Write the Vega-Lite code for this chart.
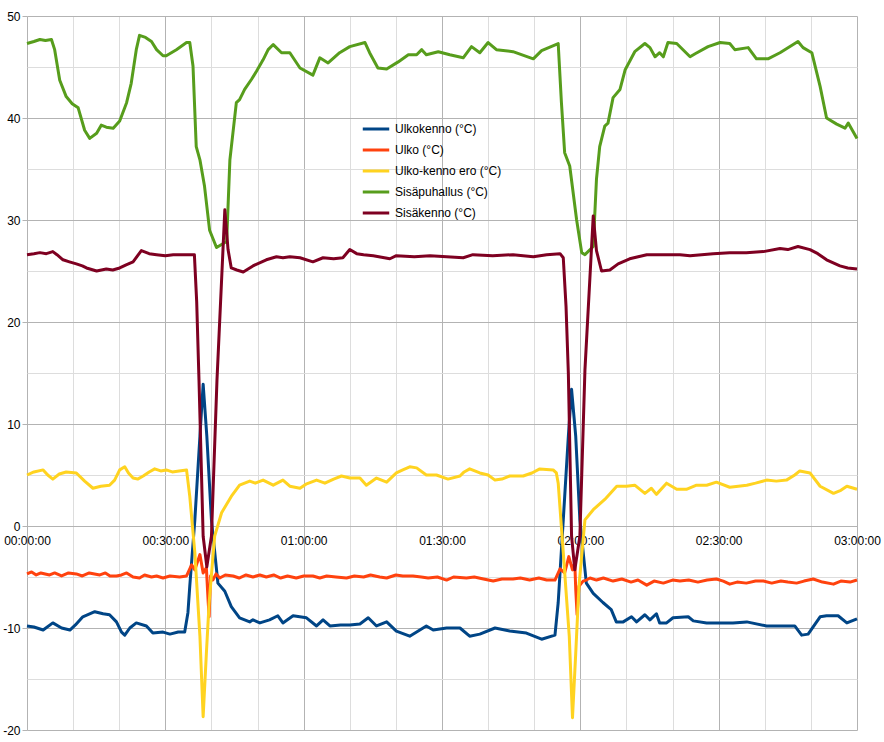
{
  "$schema": "https://vega.github.io/schema/vega-lite/v6.json",
  "width": 830,
  "height": 714,
  "autosize": {"type": "none"},
  "padding": {"left": 27, "top": 16, "right": 27, "bottom": 12},
  "background": "white",
  "config": {
    "view": {"stroke": null},
    "font": "Liberation Sans",
    "axis": {"labelFont": "Liberation Sans", "labelFontSize": 12, "labelColor": "#000000", "title": null},
    "legend": {"labelFont": "Liberation Sans", "labelFontSize": 12, "labelColor": "#000000"}
  },
  "datasets": {
    "blue": [
      {"t":0,"v":-9.8},{"t":1.5,"v":-9.9},{"t":3.5,"v":-10.2},{"t":5.6,"v":-9.5},{"t":7.5,"v":-10.0},{"t":9.3,"v":-10.2},{"t":10.5,"v":-9.7},{"t":12.1,"v":-8.9},{"t":14.7,"v":-8.4},{"t":16.5,"v":-8.6},{"t":17.9,"v":-8.7},{"t":19.4,"v":-9.4},{"t":20.5,"v":-10.4},{"t":21.2,"v":-10.7},{"t":22.3,"v":-10.0},{"t":23.7,"v":-9.5},{"t":25.9,"v":-9.8},{"t":27.3,"v":-10.5},{"t":29.5,"v":-10.4},{"t":31.0,"v":-10.6},{"t":32.8,"v":-10.4},{"t":34.2,"v":-10.4},{"t":34.9,"v":-8.5},{"t":35.3,"v":-5.9},{"t":36.4,"v":0.6},{"t":37.5,"v":8.8},{"t":38.2,"v":13.9},{"t":39.0,"v":8.8},{"t":40.0,"v":0.6},{"t":41.4,"v":-5.6},{"t":42.9,"v":-6.4},{"t":44.3,"v":-7.9},{"t":46.1,"v":-9.0},{"t":48.3,"v":-9.4},{"t":49.0,"v":-9.2},{"t":50.5,"v":-9.5},{"t":52.6,"v":-9.2},{"t":54.4,"v":-8.8},{"t":55.5,"v":-9.5},{"t":57.7,"v":-8.8},{"t":60.6,"v":-9.0},{"t":62.8,"v":-9.8},{"t":64.2,"v":-9.2},{"t":65.7,"v":-9.8},{"t":68.0,"v":-9.7},{"t":70.0,"v":-9.7},{"t":72.2,"v":-9.6},{"t":74.0,"v":-9.0},{"t":75.8,"v":-9.8},{"t":78.0,"v":-9.4},{"t":80.1,"v":-10.3},{"t":83.0,"v":-10.8},{"t":86.6,"v":-9.8},{"t":88.1,"v":-10.2},{"t":91.0,"v":-10.0},{"t":93.9,"v":-10.0},{"t":96.0,"v":-10.8},{"t":98.2,"v":-10.6},{"t":101.5,"v":-10.0},{"t":104.7,"v":-10.3},{"t":108.3,"v":-10.5},{"t":111.6,"v":-11.1},{"t":114.5,"v":-10.7},{"t":115.2,"v":-7.5},{"t":116.3,"v":0.6},{"t":117.4,"v":8.8},{"t":118.1,"v":13.4},{"t":119.0,"v":8.8},{"t":119.9,"v":0.6},{"t":121.3,"v":-5.6},{"t":122.8,"v":-6.6},{"t":124.9,"v":-7.5},{"t":126.7,"v":-8.2},{"t":127.8,"v":-9.4},{"t":129.3,"v":-9.4},{"t":131.1,"v":-8.9},{"t":132.2,"v":-9.4},{"t":134.0,"v":-8.7},{"t":135.1,"v":-9.2},{"t":136.5,"v":-8.6},{"t":137.2,"v":-9.5},{"t":138.7,"v":-9.5},{"t":140.1,"v":-9.0},{"t":143.4,"v":-8.9},{"t":144.5,"v":-9.3},{"t":147.4,"v":-9.5},{"t":150.3,"v":-9.5},{"t":153.1,"v":-9.5},{"t":156.1,"v":-9.4},{"t":160.4,"v":-9.8},{"t":164.7,"v":-9.8},{"t":166.5,"v":-9.8},{"t":168.0,"v":-10.7},{"t":169.4,"v":-10.6},{"t":172.0,"v":-8.9},{"t":173.4,"v":-8.8},{"t":175.9,"v":-8.8},{"t":177.8,"v":-9.5},{"t":180,"v":-9.1}
    ],
    "orange": [
      {"t":0,"v":-4.7},{"t":1,"v":-4.5},{"t":2,"v":-4.8},{"t":3,"v":-4.6},{"t":4.9,"v":-4.8},{"t":6,"v":-4.6},{"t":7.5,"v":-4.9},{"t":9,"v":-4.6},{"t":10.7,"v":-4.7},{"t":12,"v":-4.9},{"t":13.5,"v":-4.6},{"t":15.8,"v":-4.8},{"t":17,"v":-4.6},{"t":18,"v":-4.9},{"t":19.4,"v":-4.9},{"t":20.5,"v":-4.8},{"t":21.6,"v":-4.6},{"t":23,"v":-5.0},{"t":24.4,"v":-5.1},{"t":25.5,"v":-4.8},{"t":27,"v":-5.0},{"t":28.1,"v":-4.9},{"t":29.5,"v":-5.1},{"t":31,"v":-4.9},{"t":33.1,"v":-5.0},{"t":34.6,"v":-4.9},{"t":35.7,"v":-3.8},{"t":36.4,"v":-4.3},{"t":37.5,"v":-2.8},{"t":38.2,"v":-4.6},{"t":38.9,"v":-4.1},{"t":39.3,"v":-7.5},{"t":39.5,"v":-8.9},{"t":39.8,"v":-4.9},{"t":40.3,"v":-5.3},{"t":41.0,"v":-4.7},{"t":41.8,"v":-5.1},{"t":43,"v":-4.8},{"t":44.7,"v":-4.9},{"t":46,"v":-5.1},{"t":47.5,"v":-4.8},{"t":49,"v":-5.0},{"t":50.5,"v":-4.8},{"t":51.9,"v":-5.0},{"t":53.5,"v":-4.8},{"t":55,"v":-5.1},{"t":56.5,"v":-4.9},{"t":58.4,"v":-5.1},{"t":60,"v":-4.9},{"t":62.0,"v":-4.9},{"t":63.5,"v":-5.1},{"t":65,"v":-4.9},{"t":67,"v":-5.0},{"t":69.3,"v":-5.1},{"t":71,"v":-4.9},{"t":73,"v":-5.0},{"t":74.5,"v":-4.8},{"t":76.5,"v":-5.0},{"t":78,"v":-5.1},{"t":80,"v":-4.8},{"t":81.5,"v":-4.9},{"t":83.7,"v":-4.9},{"t":85.5,"v":-5.0},{"t":87,"v":-5.1},{"t":89,"v":-5.0},{"t":91.0,"v":-5.3},{"t":92.5,"v":-5.0},{"t":95.3,"v":-5.1},{"t":97,"v":-5.0},{"t":99,"v":-5.2},{"t":101.1,"v":-5.4},{"t":103,"v":-5.2},{"t":105.4,"v":-5.2},{"t":107,"v":-5.1},{"t":109,"v":-5.3},{"t":111,"v":-5.1},{"t":112.7,"v":-5.3},{"t":114.5,"v":-5.3},{"t":115.6,"v":-4.2},{"t":116.6,"v":-4.6},{"t":117.5,"v":-3.0},{"t":118.3,"v":-4.3},{"t":118.8,"v":-3.6},{"t":119.0,"v":-6.2},{"t":119.3,"v":-8.7},{"t":119.7,"v":-5.9},{"t":120.6,"v":-5.4},{"t":121.3,"v":-5.3},{"t":122.1,"v":-5.1},{"t":123.5,"v":-5.3},{"t":125,"v":-5.1},{"t":127.1,"v":-5.4},{"t":129,"v":-5.2},{"t":131,"v":-5.5},{"t":132.5,"v":-5.3},{"t":134.4,"v":-5.8},{"t":136,"v":-5.4},{"t":138,"v":-5.6},{"t":140,"v":-5.3},{"t":141.6,"v":-5.4},{"t":143.5,"v":-5.3},{"t":145.5,"v":-5.5},{"t":147.5,"v":-5.3},{"t":149.5,"v":-5.2},{"t":151,"v":-5.4},{"t":152.4,"v":-5.7},{"t":154,"v":-5.5},{"t":156,"v":-5.6},{"t":158,"v":-5.4},{"t":159.7,"v":-5.4},{"t":161.5,"v":-5.6},{"t":163.5,"v":-5.4},{"t":165,"v":-5.5},{"t":166.9,"v":-5.6},{"t":168.5,"v":-5.4},{"t":170.5,"v":-5.2},{"t":172.5,"v":-5.5},{"t":174.9,"v":-5.7},{"t":176.5,"v":-5.4},{"t":178.5,"v":-5.5},{"t":180,"v":-5.3}
    ],
    "yellow": [
      {"t":0,"v":5.0},{"t":1.5,"v":5.3},{"t":3.5,"v":5.5},{"t":4.5,"v":5.0},{"t":5.6,"v":4.6},{"t":7.0,"v":5.1},{"t":8.5,"v":5.3},{"t":10.7,"v":5.2},{"t":12.5,"v":4.4},{"t":14.3,"v":3.7},{"t":16.0,"v":3.9},{"t":17.9,"v":4.0},{"t":19.0,"v":4.5},{"t":20.1,"v":5.5},{"t":21.2,"v":5.8},{"t":22.0,"v":5.2},{"t":23.0,"v":4.7},{"t":24.0,"v":4.6},{"t":25.2,"v":4.9},{"t":26.5,"v":5.3},{"t":27.7,"v":5.6},{"t":29.0,"v":5.4},{"t":30.2,"v":5.5},{"t":31.5,"v":5.3},{"t":33.0,"v":5.4},{"t":34.6,"v":5.5},{"t":35.3,"v":2.9},{"t":36.4,"v":-2.6},{"t":37.5,"v":-10.8},{"t":38.2,"v":-18.7},{"t":38.9,"v":-12.5},{"t":39.5,"v":-7.5},{"t":40.7,"v":-1.0},{"t":42.2,"v":1.3},{"t":44.3,"v":2.9},{"t":46.1,"v":4.0},{"t":48.3,"v":4.4},{"t":49.5,"v":4.2},{"t":51.2,"v":4.5},{"t":53.4,"v":4.0},{"t":55.5,"v":4.5},{"t":57.0,"v":3.9},{"t":59.2,"v":3.7},{"t":60.5,"v":4.1},{"t":62.8,"v":4.5},{"t":64.6,"v":4.2},{"t":66.5,"v":4.6},{"t":68.2,"v":4.9},{"t":70.0,"v":4.7},{"t":72.2,"v":4.7},{"t":73.6,"v":4.0},{"t":75.8,"v":4.7},{"t":78.0,"v":4.3},{"t":80.1,"v":5.2},{"t":81.5,"v":5.5},{"t":83.0,"v":5.8},{"t":84.5,"v":5.7},{"t":86.6,"v":5.0},{"t":88.8,"v":5.0},{"t":91.3,"v":4.6},{"t":93.9,"v":4.9},{"t":94.8,"v":5.3},{"t":96.0,"v":5.6},{"t":98.2,"v":5.2},{"t":100.0,"v":5.0},{"t":101.5,"v":4.5},{"t":103.0,"v":4.6},{"t":104.7,"v":4.9},{"t":107.6,"v":4.9},{"t":109.5,"v":5.2},{"t":111.2,"v":5.6},{"t":114.1,"v":5.5},{"t":114.8,"v":5.2},{"t":115.2,"v":4.2},{"t":116.3,"v":-2.6},{"t":117.6,"v":-10.8},{"t":118.3,"v":-18.8},{"t":119.0,"v":-12.5},{"t":119.7,"v":-5.9},{"t":121.0,"v":0.6},{"t":122.8,"v":1.6},{"t":125.3,"v":2.6},{"t":127.9,"v":3.9},{"t":130.0,"v":3.9},{"t":131.8,"v":4.0},{"t":134.0,"v":3.2},{"t":135.4,"v":3.7},{"t":136.5,"v":3.1},{"t":138.7,"v":4.2},{"t":140.9,"v":3.6},{"t":143.0,"v":3.6},{"t":145.2,"v":4.0},{"t":147.4,"v":4.0},{"t":149.5,"v":4.3},{"t":152.4,"v":3.8},{"t":156.1,"v":4.0},{"t":158.0,"v":4.2},{"t":160.4,"v":4.5},{"t":162.5,"v":4.4},{"t":164.7,"v":4.5},{"t":166.5,"v":5.0},{"t":167.6,"v":5.4},{"t":169.8,"v":5.2},{"t":172.0,"v":3.9},{"t":174.9,"v":3.2},{"t":176.5,"v":3.5},{"t":177.8,"v":3.9},{"t":180,"v":3.6}
    ],
    "green": [
      {"t":0,"v":47.3},{"t":1.5,"v":47.5},{"t":2.8,"v":47.7},{"t":4,"v":47.6},{"t":5.3,"v":47.7},{"t":6,"v":46.7},{"t":7.1,"v":43.7},{"t":8.5,"v":42.1},{"t":9.8,"v":41.4},{"t":11.1,"v":41.0},{"t":12.5,"v":38.8},{"t":13.6,"v":38.0},{"t":15.1,"v":38.5},{"t":16.1,"v":39.3},{"t":17.2,"v":39.1},{"t":18.7,"v":39.0},{"t":20.1,"v":39.7},{"t":21.6,"v":41.5},{"t":22.6,"v":43.4},{"t":23.7,"v":46.7},{"t":24.4,"v":48.1},{"t":25.7,"v":47.9},{"t":27.0,"v":47.5},{"t":28.1,"v":46.7},{"t":29.5,"v":46.1},{"t":30.2,"v":46.1},{"t":32.4,"v":46.7},{"t":34.6,"v":47.4},{"t":35.3,"v":47.4},{"t":36.0,"v":45.1},{"t":36.7,"v":37.2},{"t":37.5,"v":35.9},{"t":38.5,"v":33.3},{"t":39.6,"v":29.0},{"t":41.1,"v":27.3},{"t":43.3,"v":27.9},{"t":44.0,"v":35.9},{"t":45.4,"v":41.5},{"t":46.1,"v":41.8},{"t":47.2,"v":42.8},{"t":48.7,"v":43.8},{"t":49.8,"v":44.6},{"t":51.2,"v":45.7},{"t":52.3,"v":46.7},{"t":53.4,"v":47.2},{"t":55.2,"v":46.4},{"t":57.0,"v":46.4},{"t":59.2,"v":44.9},{"t":62.0,"v":44.2},{"t":63.5,"v":45.9},{"t":65.3,"v":45.4},{"t":67.8,"v":46.4},{"t":70.0,"v":47.0},{"t":73.3,"v":47.4},{"t":74.3,"v":46.4},{"t":76.1,"v":44.9},{"t":78.0,"v":44.8},{"t":80.5,"v":45.5},{"t":82.7,"v":46.2},{"t":84.5,"v":46.2},{"t":85.6,"v":46.7},{"t":86.6,"v":46.2},{"t":89.2,"v":46.5},{"t":91.7,"v":46.2},{"t":94.6,"v":45.9},{"t":96.4,"v":47.0},{"t":98.2,"v":46.4},{"t":100.0,"v":47.4},{"t":101.8,"v":46.7},{"t":105.4,"v":46.5},{"t":109.8,"v":45.8},{"t":111.6,"v":46.6},{"t":115.2,"v":47.3},{"t":115.9,"v":41.5},{"t":116.6,"v":36.6},{"t":117.7,"v":35.3},{"t":119.2,"v":30.0},{"t":120.3,"v":26.8},{"t":121.0,"v":26.6},{"t":122.8,"v":27.4},{"t":123.5,"v":34.0},{"t":124.2,"v":37.2},{"t":125.3,"v":39.2},{"t":126.0,"v":39.5},{"t":127.1,"v":42.0},{"t":128.6,"v":42.8},{"t":129.7,"v":44.7},{"t":131.8,"v":46.5},{"t":134.0,"v":47.3},{"t":135.1,"v":46.9},{"t":136.2,"v":46.0},{"t":137.2,"v":46.4},{"t":138.0,"v":46.0},{"t":139.0,"v":47.4},{"t":140.9,"v":47.3},{"t":143.8,"v":46.0},{"t":144.9,"v":46.3},{"t":147.7,"v":47.0},{"t":150.3,"v":47.4},{"t":152.4,"v":47.3},{"t":153.5,"v":46.7},{"t":156.4,"v":46.9},{"t":158.2,"v":45.8},{"t":160.7,"v":45.8},{"t":163.3,"v":46.4},{"t":167.2,"v":47.5},{"t":168.3,"v":46.9},{"t":170.2,"v":46.4},{"t":172.0,"v":43.1},{"t":173.4,"v":40.0},{"t":175.6,"v":39.4},{"t":177.4,"v":39.0},{"t":178.1,"v":39.5},{"t":180,"v":38.0}
    ],
    "maroon": [
      {"t":0,"v":26.6},{"t":1.5,"v":26.7},{"t":2.8,"v":26.8},{"t":4.2,"v":26.7},{"t":5.6,"v":26.9},{"t":6.5,"v":26.6},{"t":7.8,"v":26.1},{"t":9.2,"v":25.9},{"t":10.7,"v":25.7},{"t":12.0,"v":25.5},{"t":12.9,"v":25.3},{"t":15.1,"v":25.0},{"t":17.2,"v":25.2},{"t":18.6,"v":25.1},{"t":20.1,"v":25.3},{"t":21.5,"v":25.6},{"t":23.0,"v":25.9},{"t":24.8,"v":27.0},{"t":26.5,"v":26.7},{"t":28.1,"v":26.6},{"t":30.0,"v":26.5},{"t":31.7,"v":26.6},{"t":34.0,"v":26.6},{"t":36.3,"v":26.6},{"t":36.8,"v":22.0},{"t":37.3,"v":14.3},{"t":38.2,"v":-1.0},{"t":39.0,"v":-4.0},{"t":40.0,"v":-1.0},{"t":41.2,"v":14.3},{"t":42.9,"v":31.0},{"t":43.6,"v":27.1},{"t":44.3,"v":25.3},{"t":45.5,"v":25.1},{"t":46.9,"v":24.9},{"t":49.0,"v":25.5},{"t":51.9,"v":26.1},{"t":54.1,"v":26.4},{"t":55.5,"v":26.3},{"t":57.0,"v":26.4},{"t":59.2,"v":26.3},{"t":62.0,"v":25.9},{"t":64.2,"v":26.3},{"t":66.5,"v":26.2},{"t":68.5,"v":26.3},{"t":70.0,"v":27.1},{"t":71.5,"v":26.7},{"t":73.0,"v":26.6},{"t":75.1,"v":26.5},{"t":78.7,"v":26.2},{"t":80.1,"v":26.5},{"t":84.0,"v":26.4},{"t":87.4,"v":26.5},{"t":91.0,"v":26.4},{"t":94.6,"v":26.3},{"t":96.7,"v":26.6},{"t":101.0,"v":26.5},{"t":105.4,"v":26.6},{"t":109.8,"v":26.4},{"t":112.7,"v":26.6},{"t":115.6,"v":26.7},{"t":116.3,"v":26.3},{"t":116.9,"v":21.5},{"t":117.4,"v":15.0},{"t":118.1,"v":-1.0},{"t":118.8,"v":-4.3},{"t":119.9,"v":-1.0},{"t":121.0,"v":15.3},{"t":122.8,"v":30.4},{"t":123.5,"v":27.0},{"t":124.6,"v":25.0},{"t":126.4,"v":25.1},{"t":128.2,"v":25.7},{"t":130.7,"v":26.2},{"t":134.4,"v":26.6},{"t":136.5,"v":26.6},{"t":141.6,"v":26.6},{"t":143.8,"v":26.5},{"t":148.8,"v":26.7},{"t":152.4,"v":26.8},{"t":156.0,"v":26.8},{"t":159.7,"v":26.9},{"t":163.3,"v":27.2},{"t":165.0,"v":27.1},{"t":167.2,"v":27.4},{"t":169.8,"v":27.1},{"t":171.5,"v":26.7},{"t":173.4,"v":26.1},{"t":176.3,"v":25.5},{"t":178.0,"v":25.3},{"t":180,"v":25.2}
    ]
  },
  "encoding": {
    "x": {
      "field": "t", "type": "quantitative",
      "scale": {"domain": [0, 180], "nice": false, "zero": false},
      "axis": {
        "values": [0,10,20,30,40,50,60,70,80,90,100,110,120,130,140,150,160,170,180],
        "labelExpr": "datum.value % 30 == 0 ? utcFormat(datum.value * 60000, '%H:%M:%S') : ''",
        "labelOverlap": false,
        "labelFlush": false,
        "labelPadding": 9,
        "offset": -204,
        "domain": false,
        "ticks": false,
        "grid": true,
        "gridColor": {"condition": {"test": "datum.value % 30 == 0", "value": "#b3b3b3"}, "value": "#dddddd"},
        "gridWidth": 1
      }
    },
    "y": {
      "field": "v", "type": "quantitative",
      "scale": {"domain": [-20, 50], "nice": false, "zero": false},
      "axis": {
        "values": [-20,-15,-10,-5,0,5,10,15,20,25,30,35,40,45,50],
        "labelExpr": "datum.value % 10 == 0 ? '' + datum.value : ''",
        "labelOverlap": false,
        "labelFlush": false,
        "labelPadding": 2,
        "domain": false,
        "ticks": true,
        "tickSize": 5,
        "tickColor": {"condition": {"test": "datum.value % 10 == 0", "value": "#b3b3b3"}, "value": "transparent"},
        "grid": true,
        "gridColor": {"condition": {"test": "datum.value % 10 == 0", "value": "#b3b3b3"}, "value": "#dddddd"},
        "gridWidth": 1
      }
    }
  },
  "layer": [
    {"data": {"name": "blue"}, "mark": {"type": "line", "strokeWidth": 3, "strokeJoin": "round"}, "encoding": {"color": {"datum": "Ulkokenno (°C)"}}},
    {"data": {"name": "orange"}, "mark": {"type": "line", "strokeWidth": 3, "strokeJoin": "round"}, "encoding": {"color": {"datum": "Ulko (°C)"}}},
    {"data": {"name": "yellow"}, "mark": {"type": "line", "strokeWidth": 3, "strokeJoin": "round"}, "encoding": {"color": {"datum": "Ulko-kenno ero (°C)"}}},
    {"data": {"name": "green"}, "mark": {"type": "line", "strokeWidth": 3, "strokeJoin": "round"}, "encoding": {"color": {"datum": "Sisäpuhallus (°C)"}}},
    {"data": {"name": "maroon"}, "mark": {"type": "line", "strokeWidth": 3, "strokeJoin": "round"}, "encoding": {"color": {
      "datum": "Sisäkenno (°C)",
      "scale": {
        "domain": ["Ulkokenno (°C)", "Ulko (°C)", "Ulko-kenno ero (°C)", "Sisäpuhallus (°C)", "Sisäkenno (°C)"],
        "range": ["#004586", "#ff420e", "#ffd320", "#579d1c", "#7e0021"]
      },
      "legend": {
        "title": null,
        "orient": "none",
        "legendX": 334,
        "legendY": 98,
        "symbolType": "stroke",
        "symbolSize": 700,
        "symbolStrokeWidth": 3,
        "labelOffset": 4,
        "rowPadding": 0,
        "padding": 0
      }
    }}}
  ]
}
